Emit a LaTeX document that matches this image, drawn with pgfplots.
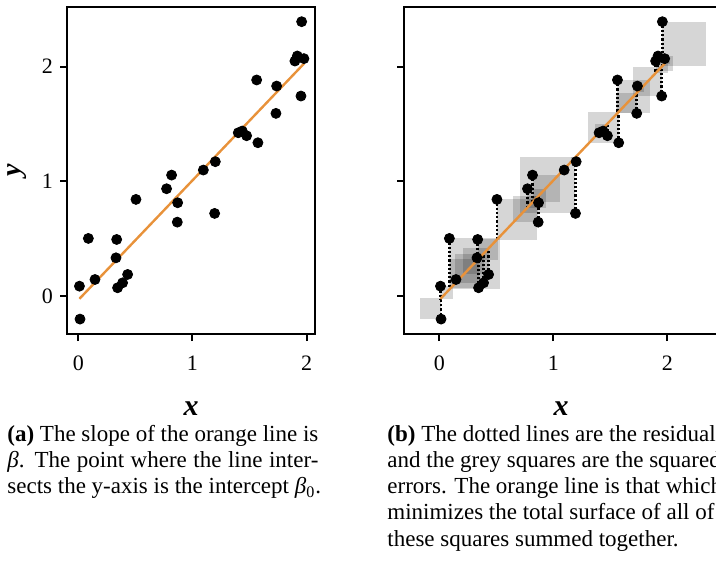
\documentclass[border=0pt]{standalone}
\usepackage{pgfplots}
\pgfplotsset{compat=1.18}
\usepackage{pgfplotstable}
\usepackage{fontspec}
\setmainfont{Liberation Serif}
\definecolor{lineorange}{RGB}{232,146,58}

\pgfplotstableread{
x y
0.015 -0.200
0.010 0.087
0.088 0.503
0.146 0.145
0.336 0.494
0.330 0.334
0.344 0.073
0.388 0.116
0.432 0.189
0.505 0.843
0.773 0.936
0.817 1.055
0.870 0.814
0.867 0.645
1.095 1.099
1.200 1.172
1.194 0.721
1.401 1.424
1.436 1.439
1.474 1.398
1.562 1.884
1.573 1.337
1.737 1.831
1.731 1.593
1.897 2.049
1.918 2.093
1.976 2.070
1.956 2.392
1.950 1.744
}\points

\pgfplotstableread{
x y
0.010 -0.023
1.976 2.026
}\fitline

\newcommand\sq[4]{\addplot[sqfill] coordinates {(#1,#2) (#3,#2) (#3,#4) (#1,#4)};}

\pgfplotsset{
  panel/.style={
    scale only axis,
    width=124pt, height=163.5pt,
    ymin=-0.33, ymax=2.52,
    xtick={0,1,2}, ytick={0,1,2},
    tick align=outside, tick pos=left,
    major tick length=3.5pt,
    axis line style={line width=1pt},
    every tick/.style={black, line width=1pt},
    /pgf/number format/assume math mode=true,
    tick label style={font=\fontsize{11}{13}\selectfont},
    xticklabel style={yshift=-4pt},
    xlabel={\textbf{\textit{x}}},
    xlabel style={font=\fontsize{15}{17}\selectfont, at={(axis description cs:0.5,-0.248)}, anchor=base},
  },
  sqfill/.style={fill=black, fill opacity=0.16, draw=none, forget plot},
  pts/.style={only marks, mark=*, mark size=2.5pt, black, mark options={fill=black, draw=black}},
  fit/.style={lineorange, line width=1.2pt, no marks},
}

\begin{document}
\begin{tikzpicture}
\path[use as bounding box, clip] (0,0) rectangle (358pt,284.5pt);

% ---- panel (a)
\begin{axis}[panel, at={(33.5pt,117.5pt)}, anchor=south west,
  xmin=-0.099, xmax=2.073,
  ylabel={\textbf{\textit{y}}},
  ylabel style={font=\fontsize{14}{16}\selectfont, at={(axis description cs:-0.20,0.5)}, anchor=center},
]
\addplot[fit] table {\fitline};
\addplot[pts] table {\points};
\end{axis}

% ---- panel (b)
\begin{axis}[panel, at={(202pt,117.5pt)}, anchor=south west,
  width=157pt,
  xmin=-0.31, xmax=2.444,
  yticklabels={},
]
\sq{0.015}{-0.017}{-0.168}{-0.200}
\sq{0.010}{-0.023}{0.120}{0.087}
\sq{0.088}{0.059}{0.532}{0.503}
\sq{0.146}{0.119}{0.172}{0.145}
\sq{0.336}{0.317}{0.513}{0.494}
\sq{0.330}{0.311}{0.353}{0.334}
\sq{0.344}{0.325}{0.092}{0.073}
\sq{0.388}{0.371}{0.133}{0.116}
\sq{0.432}{0.417}{0.204}{0.189}
\sq{0.505}{0.493}{0.855}{0.843}
\sq{0.773}{0.772}{0.937}{0.936}
\sq{0.817}{0.818}{1.054}{1.055}
\sq{0.870}{0.874}{0.810}{0.814}
\sq{0.867}{0.870}{0.642}{0.645}
\sq{1.095}{1.108}{1.086}{1.099}
\sq{1.200}{1.217}{1.155}{1.172}
\sq{1.194}{1.211}{0.704}{0.721}
\sq{1.401}{1.427}{1.398}{1.424}
\sq{1.436}{1.463}{1.412}{1.439}
\sq{1.474}{1.503}{1.369}{1.398}
\sq{1.562}{1.595}{1.851}{1.884}
\sq{1.573}{1.606}{1.304}{1.337}
\sq{1.737}{1.777}{1.791}{1.831}
\sq{1.731}{1.771}{1.553}{1.593}
\sq{1.897}{1.944}{2.002}{2.049}
\sq{1.918}{1.966}{2.045}{2.093}
\sq{1.976}{2.026}{2.020}{2.070}
\sq{1.956}{2.005}{2.343}{2.392}
\sq{1.950}{1.999}{1.695}{1.744}
\addplot[black, line width=1.3pt, dash pattern=on 1.1pt off 1.0pt, unbounded coords=jump, no marks] coordinates {
(0.015,-0.200) (0.015,-0.017) (0.015,nan)
(0.010,0.087) (0.010,-0.023) (0.010,nan)
(0.088,0.503) (0.088,0.059) (0.088,nan)
(0.146,0.145) (0.146,0.119) (0.146,nan)
(0.336,0.494) (0.336,0.317) (0.336,nan)
(0.330,0.334) (0.330,0.311) (0.330,nan)
(0.344,0.073) (0.344,0.325) (0.344,nan)
(0.388,0.116) (0.388,0.371) (0.388,nan)
(0.432,0.189) (0.432,0.417) (0.432,nan)
(0.505,0.843) (0.505,0.493) (0.505,nan)
(0.773,0.936) (0.773,0.772) (0.773,nan)
(0.817,1.055) (0.817,0.818) (0.817,nan)
(0.870,0.814) (0.870,0.874) (0.870,nan)
(0.867,0.645) (0.867,0.870) (0.867,nan)
(1.095,1.099) (1.095,1.108) (1.095,nan)
(1.200,1.172) (1.200,1.217) (1.200,nan)
(1.194,0.721) (1.194,1.211) (1.194,nan)
(1.401,1.424) (1.401,1.427) (1.401,nan)
(1.436,1.439) (1.436,1.463) (1.436,nan)
(1.474,1.398) (1.474,1.503) (1.474,nan)
(1.562,1.884) (1.562,1.595) (1.562,nan)
(1.573,1.337) (1.573,1.606) (1.573,nan)
(1.737,1.831) (1.737,1.777) (1.737,nan)
(1.731,1.593) (1.731,1.771) (1.731,nan)
(1.897,2.049) (1.897,1.944) (1.897,nan)
(1.918,2.093) (1.918,1.966) (1.918,nan)
(1.976,2.070) (1.976,2.026) (1.976,nan)
(1.956,2.392) (1.956,2.005) (1.956,nan)
(1.950,1.744) (1.950,1.999) (1.950,nan)
};
\addplot[fit] table {\fitline};
\addplot[pts] table {\points};
\end{axis}

% ---- captions
\node[anchor=base west, inner sep=0pt] at (3.5pt,64pt) {\parbox[t]{200pt}{\fontsize{11.5}{13.15}\selectfont
\makebox[155.5pt][s]{\textbf{(a)} The slope of the orange line is}\\
\makebox[155.5pt][s]{\textit{β}. The point where the line inter-}\\
sects the y-axis is the intercept \textit{β}\textsubscript{0}.}};

\node[anchor=base west, inner sep=0pt] at (193.5pt,64pt) {\parbox[t]{260pt}{\fontsize{11.5}{13.15}\selectfont
\textbf{(b)} The dotted lines are the residuals\\
and the grey squares are the squared\\
errors. The orange line is that which\\
minimizes the total surface of all of\\
these squares summed together.}};
\end{tikzpicture}
\end{document}
